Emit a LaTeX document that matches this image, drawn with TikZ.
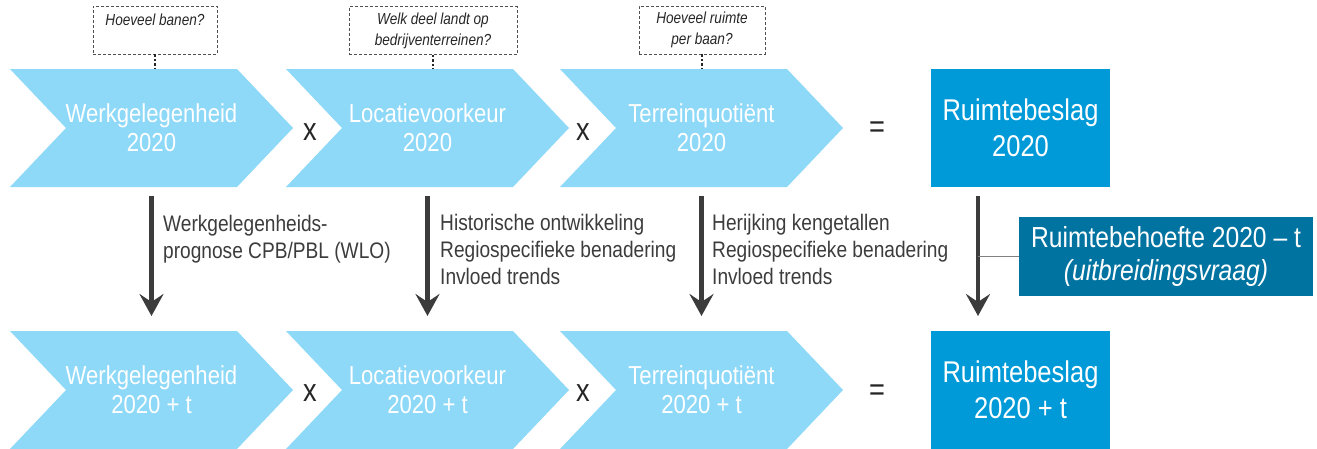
\documentclass[tikz,border=0pt]{standalone}
\usepackage{fontspec}
\setmainfont[FakeStretch=0.85]{Liberation Sans}
\usetikzlibrary{arrows.meta,calc}

\definecolor{chevblue}{HTML}{8ED8F8}
\definecolor{boxblue}{HTML}{009AD8}
\definecolor{deepblue}{HTML}{0073A0}
\definecolor{ink}{HTML}{3C3C3C}
\definecolor{qink}{HTML}{262626}
\definecolor{dashgray}{HTML}{505050}

\tikzset{
  chevron/.style={minimum width=283, minimum height=118, inner sep=0, outer sep=0,
    text=white, align=center, font=\fontsize{26}{29}\selectfont,
    path picture={\fill[chevblue]
      (path picture bounding box.north west)
      -- ([xshift=-56pt]path picture bounding box.north east)
      -- (path picture bounding box.east)
      -- ([xshift=-56pt]path picture bounding box.south east)
      -- (path picture bounding box.south west)
      -- ([xshift=56pt]path picture bounding box.west) -- cycle;}},
  resultbox/.style={minimum width=179, minimum height=118, inner sep=0, outer sep=0,
    fill=boxblue, text=white, align=center, font=\fontsize{30}{36}\selectfont},
  demandbox/.style={minimum width=294, minimum height=79, inner sep=0, outer sep=0,
    fill=deepblue, text=white, align=center, font=\fontsize{29}{33}\selectfont},
  question/.style={draw=dashgray, line width=0.8pt, dash pattern=on 3pt off 2pt,
    inner sep=0, outer sep=0, minimum height=48, text=qink, align=center,
    font=\fontsize{16}{21}\selectfont\itshape},
  operator/.style={text=qink, inner sep=0, font=\fontsize{32}{34}\selectfont},
  note/.style={text=ink, inner sep=0, anchor=north west, align=left,
    font=\fontsize{22.5}{27}\selectfont},
  flow/.style={draw=ink, line width=4.5pt,
    -{Stealth[length=22pt,width=24pt,inset=8pt]},
    shorten <=9pt, shorten >=15pt},
  link/.style={draw=qink, line width=2.5pt, dash pattern=on 2.5pt off 2pt},
  leader/.style={draw=gray, line width=0.8pt}
}

\begin{document}
\begin{tikzpicture}[x=1pt,y=-1pt]
\useasboundingbox (0,0) rectangle (1317,448);

% current situation
\node[chevron] (w1) at (151.5,128) {Werkgelegenheid\\2020};
\node[chevron] (l1) at (427.5,128) {Locatievoorkeur\\2020};
\node[chevron] (t1) at (701.5,128) {Terreinquotiënt\\2020};
\node[resultbox] (r1) at (1020.5,128) {Ruimtebeslag\\2020};
\node[operator] (x1) at (310,132) {x};
\node[operator] (x2) at (583,132) {x};
\node[operator] (e1) at (877,130) {=};

% future situation
\node[chevron] (w2) at (151.5,390) {Werkgelegenheid\\2020 + t};
\node[chevron] (l2) at (427.5,390) {Locatievoorkeur\\2020 + t};
\node[chevron] (t2) at (701.5,390) {Terreinquotiënt\\2020 + t};
\node[resultbox] (r2) at (1020.5,390) {Ruimtebeslag\\2020 + t};
\node[operator] (x3) at (310,393) {x};
\node[operator] (x4) at (583,393) {x};
\node[operator] (e2) at (877,393) {=};

% guiding questions
\node[question, minimum width=124] (q1) at (155,30) {Hoeveel banen?\\\mbox{}};
\node[question, minimum width=168] (q2) at (433,30.5) {Welk deel landt op\\bedrijventerreinen?};
\node[question, minimum width=126] (q3) at (702,30) {Hoeveel ruimte\\per baan?};
\draw[link] (q1.south) -- (q1.south |- w1.north);
\draw[link] (q2.south) -- (q2.south |- l1.north);
\draw[link] (q3.south) -- (q3.south |- t1.north);

% steps from 2020 to 2020 + t
\draw[flow] (w1.south) -- (w2.north);
\draw[flow] (l1.south) -- (l2.north);
\draw[flow] (t1.south) -- (t2.north);
\coordinate (a4top) at ([xshift=-42.5pt]r1.south);
\coordinate (a4bot) at ([xshift=-42.5pt]r2.north);
\draw[flow] (a4top) -- (a4bot);

\node[note] (n1) at (163,215) {Werkgelegenheids-\\prognose CPB/PBL (WLO)};
\node[note] (n2) at (440,214) {Historische ontwikkeling\\Regiospecifieke benadering\\Invloed trends};
\node[note] (n3) at (712,214) {Herijking kengetallen\\Regiospecifieke benadering\\Invloed trends};

% spatial demand
\node[demandbox] (rb) at (1166,256.5) {Ruimtebehoefte 2020 – t\\\textit{(uitbreidingsvraag)}};
\draw[leader] (rb.west) -- (rb.west -| a4top);
\end{tikzpicture}
\end{document}
